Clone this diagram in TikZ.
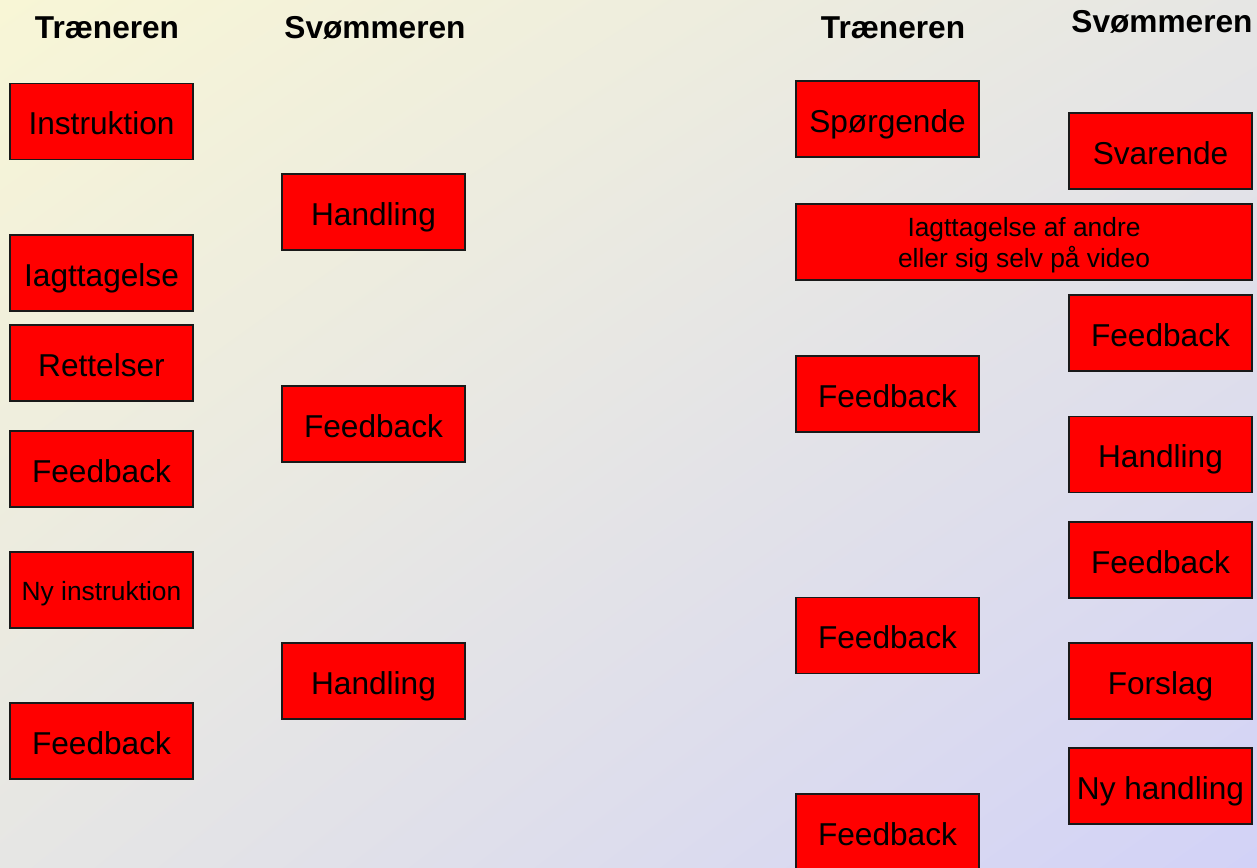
\documentclass[tikz,border=0pt]{standalone}
\usepackage{fontspec}
\setmainfont{Liberation Sans}
\usetikzlibrary{shadings}
\definecolor{bgtl}{RGB}{248,246,214}
\definecolor{bgmid}{RGB}{230,230,228}
\definecolor{bgbr}{RGB}{210,210,247}
\tikzset{
  boks/.style={draw=black!90, line width=0.8pt, fill=red, minimum width=3.66cm, minimum height=1.52cm,
    inner sep=1pt, align=center, text height=16pt, text depth=1pt, font=\fontsize{18}{21.6}\selectfont},
  lille/.style={text height=13pt, text depth=1pt, font=\fontsize{15}{18}\selectfont},
  hoved/.style={font=\fontsize{18}{21.6}\selectfont\bfseries}
}
\begin{document}
\begin{tikzpicture}
	\useasboundingbox (0,0) rectangle (25.14,-17.34);
	\shade[upper left=bgtl, upper right=bgmid, lower left=bgmid, lower right=bgbr] (0,0) rectangle (25.14,-17.34);
	% overskrifter
	\node[hoved] (hT1) at (2.14,-0.56) {Træneren};
	\node[hoved] (hS1) at (7.5,-0.56) {Svømmeren};
	\node[hoved] (hT2) at (17.86,-0.56) {Træneren};
	\node[hoved] (hS2) at (23.24,-0.44) {Svømmeren};
	% venstre side
	\node[boks] (t1) at (2.03,-2.43) {Instruktion};
	\node[boks] (t2) at (2.03,-5.46) {Iagttagelse};
	\node[boks] (t3) at (2.03,-7.26) {Rettelser};
	\node[boks] (t4) at (2.03,-9.38) {Feedback};
	\node[boks,lille] (t5) at (2.03,-11.80) {Ny instruktion};
	\node[boks] (t6) at (2.03,-14.82) {Feedback};
	\node[boks] (s1) at (7.47,-4.24) {Handling};
	\node[boks] (s2) at (7.47,-8.48) {Feedback};
	\node[boks] (s3) at (7.47,-13.62) {Handling};
	% hoejre side
	\node[boks] (tt1) at (17.75,-2.38) {Spørgende};
	\node[boks,lille,text height=,text depth=,minimum width=9.12cm] (fl) at (20.48,-4.84)
		{\rule{0pt}{14.5pt}Iagttagelse af andre\\eller sig selv på video};
	\node[boks] (tt2) at (17.75,-7.88) {Feedback};
	\node[boks] (tt3) at (17.75,-12.71) {Feedback};
	\node[boks] (tt4) at (17.75,-16.64) {Feedback};
	\node[boks] (ss1) at (23.21,-3.02) {Svarende};
	\node[boks] (ss2) at (23.21,-6.66) {Feedback};
	\node[boks] (ss3) at (23.21,-9.09) {Handling};
	\node[boks] (ss4) at (23.21,-11.20) {Feedback};
	\node[boks] (ss5) at (23.21,-13.62) {Forslag};
	\node[boks] (ss6) at (23.21,-15.72) {Ny handling};
\end{tikzpicture}
\end{document}
